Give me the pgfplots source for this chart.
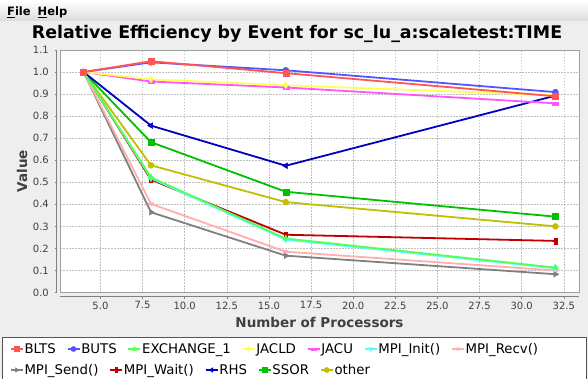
\documentclass[border=0pt]{standalone}
\usepackage{pgfplots}
\usepackage{pgfplotstable}
\pgfplotsset{compat=1.18}
\usepackage{fontspec}
\setmainfont{DejaVu Sans}
\definecolor{bgc}{HTML}{EEEEEE}
\definecolor{menubot}{HTML}{DCDCDC}
\definecolor{boxgray}{HTML}{A0A0A0}
\definecolor{axisgray}{HTML}{808080}
\definecolor{gridgray}{HTML}{C0C0C0}
\definecolor{labcol}{HTML}{404040}
\definecolor{legborder}{HTML}{555555}
\definecolor{cBLTS}{HTML}{FF5555}
\definecolor{cBUTS}{HTML}{5555FF}
\definecolor{cEXCH}{HTML}{55FF55}
\definecolor{cJACLD}{HTML}{FFFF55}
\definecolor{cJACU}{HTML}{FF55FF}
\definecolor{cInit}{HTML}{55FFFF}
\definecolor{cRecv}{HTML}{FFAFAF}
\definecolor{cSend}{HTML}{808080}
\definecolor{cWait}{HTML}{C00000}
\definecolor{cRHS}{HTML}{0000C0}
\definecolor{cSSOR}{HTML}{00C000}
\definecolor{cOther}{HTML}{C0C000}

\pgfplotstableread{
x   BLTS  BUTS  EXCH  JACLD JACU  Init  Recv  Send  Wait  RHS   SSOR  other
4   1.000 1.000 1.000 1.000 1.000 1.000 1.000 1.000 1.000 1.000 1.000 1.000
8   1.049 1.044 0.522 0.967 0.957 0.518 0.402 0.364 0.512 0.757 0.682 0.577
16  0.995 1.008 0.245 0.940 0.930 0.240 0.185 0.167 0.262 0.575 0.457 0.410
32  0.890 0.909 0.113 0.895 0.858 0.110 0.100 0.083 0.234 0.893 0.344 0.300
}\datatable

\pgfplotsset{
  ser/.style={line width=1.8pt, mark size=3pt},
  sBLTS/.style={ser, color=cBLTS, mark=square*, mark options={solid,line width=0.4pt}},
  sBUTS/.style={ser, color=cBUTS, mark=*, mark options={solid,line width=0.4pt}},
  sEXCH/.style={ser, color=cEXCH, mark=triangle*, mark size=3.4pt, mark options={solid,line width=0.4pt}},
  sJACLD/.style={ser, color=cJACLD, mark=diamond*, mark size=3.4pt, mark options={solid,line width=0.4pt}},
  sJACU/.style={ser, color=cJACU, mark=square*, mark options={solid,line width=0.4pt,yscale=0.5}},
  sInit/.style={ser, color=cInit, mark=triangle*, mark size=3.4pt, mark options={solid,line width=0.4pt,rotate=180}},
  sRecv/.style={ser, color=cRecv, mark=*, mark options={solid,line width=0.4pt,yscale=0.5}},
  sSend/.style={ser, color=cSend, mark=triangle*, mark size=3.4pt, mark options={solid,line width=0.4pt,rotate=-90}},
  sWait/.style={ser, color=cWait, mark=square*, mark options={solid,line width=0.4pt,xscale=0.5}},
  sRHS/.style={ser, color=cRHS, mark=triangle*, mark size=3.4pt, mark options={solid,line width=0.4pt,rotate=90}},
  sSSOR/.style={ser, color=cSSOR, mark=square*, mark options={solid,line width=0.4pt}},
  sOther/.style={ser, color=cOther, mark=*, mark options={solid,line width=0.4pt}},
  myleg/.style={
    legend columns=-1,
    legend cell align=left,
    legend image code/.code={\draw[##1, line width=1.5pt, mark repeat=2, mark phase=2, mark size=2.6pt]
        plot coordinates {(0pt,0pt)(6pt,0pt)(12pt,0pt)};},
    legend style={draw=none, fill=none, inner sep=0pt, outer sep=0pt,
      font=\fontsize{13.3}{15}\selectfont,
      nodes={inner sep=1pt, text=black},
      /tikz/every even column/.append style={column sep=10pt}},
  },
}

\begin{document}
\begin{tikzpicture}[x=1pt,y=1pt]
\useasboundingbox (0,0) rectangle (588,378);
\fill[bgc] (0,0) rectangle (588,378);
\shade[top color=white, bottom color=menubot] (0,357) rectangle (588,378);
\node[anchor=base west, font=\fontsize{11.5}{13}\selectfont\bfseries, text=black, inner sep=0pt]
  at (7,362.5) {\underline{F}ile\hspace{7pt}\underline{H}elp};
\node[anchor=base, font=\fontsize{17.4}{20}\selectfont\bfseries, inner sep=0pt]
  at (297,339) {Relative Efficiency by Event for sc\_lu\_a:scaletest:TIME};
\draw[legborder, fill=white, line width=0.8pt] (2,41) rectangle (586,-5);

\begin{axis}[
  at={(60pt,85.5pt)}, anchor=south west,
  width=519pt, height=242.5pt, scale only axis,
  clip=false,
  xmin=2.6, xmax=33.4, ymin=0, ymax=1.1,
  xtick={5,7.5,10,12.5,15,17.5,20,22.5,25,27.5,30,32.5},
  ytick={0,0.1,0.2,0.3,0.4,0.5,0.6,0.7,0.8,0.9,1.0,1.1},
  /pgf/number format/.cd, fixed, fixed zerofill, precision=1, assume math mode=true, /pgfplots/.cd,
  scaled ticks=false,
  tick label style={font=\fontsize{10}{12}\selectfont, text=labcol, inner sep=0pt},
  xticklabel style={anchor=north, yshift=-7pt},
  yticklabel style={anchor=east, xshift=-9pt},
  axis line style={boxgray, line width=0.8pt},
  axis background/.style={fill=white},
  major tick length=2pt, tick align=outside,
  xtick pos=left, ytick pos=left,
  xtick style={yshift=-4pt, draw=axisgray, line width=0.6pt},
  ytick style={xshift=-3.5pt, draw=axisgray, line width=0.6pt},
  grid=major,
  major grid style={gridgray, dash pattern=on 1.5pt off 1.5pt, line width=0.5pt},
  xlabel={Number of Processors}, ylabel={Value},
  label style={font=\fontsize{13.5}{16}\selectfont\bfseries, text=labcol},
  xlabel style={at={(axis description cs:0.5,-0.1216)}, anchor=center},
  ylabel style={at={(axis description cs:-0.0732,0.5)}, anchor=center},
  myleg,
  legend style={at={(axis description cs:-0.0963,-0.233)}, anchor=west},
]
\draw[axisgray, line width=0.8pt] ([xshift=-3.5pt]rel axis cs:0,0) -- ([xshift=-3.5pt]rel axis cs:0,1);
\draw[axisgray, line width=0.8pt] ([yshift=-4pt]rel axis cs:0,0) -- ([yshift=-4pt]rel axis cs:1,0);
\addplot[sOther, forget plot] table[x=x, y=other] {\datatable};
\addplot[sSSOR, forget plot] table[x=x, y=SSOR] {\datatable};
\addplot[sRHS, forget plot] table[x=x, y=RHS] {\datatable};
\addplot[sWait, forget plot] table[x=x, y=Wait] {\datatable};
\addplot[sSend, forget plot] table[x=x, y=Send] {\datatable};
\addplot[sRecv, forget plot] table[x=x, y=Recv] {\datatable};
\addplot[sInit, forget plot] table[x=x, y=Init] {\datatable};
\addplot[sJACU, forget plot] table[x=x, y=JACU] {\datatable};
\addplot[sJACLD, forget plot] table[x=x, y=JACLD] {\datatable};
\addplot[sEXCH, forget plot] table[x=x, y=EXCH] {\datatable};
\addplot[sBUTS, forget plot] table[x=x, y=BUTS] {\datatable};
\addplot[sBLTS, forget plot] table[x=x, y=BLTS] {\datatable};
\addlegendimage{sBLTS}\addlegendentry{BLTS}
\addlegendimage{sBUTS}\addlegendentry{BUTS}
\addlegendimage{sEXCH}\addlegendentry{EXCHANGE\_1}
\addlegendimage{sJACLD}\addlegendentry{JACLD}
\addlegendimage{sJACU}\addlegendentry{JACU}
\addlegendimage{sInit}\addlegendentry{MPI\_Init()}
\addlegendimage{sRecv}\addlegendentry{MPI\_Recv()}
\end{axis}

\begin{axis}[
  at={(60pt,85.5pt)}, anchor=south west,
  width=519pt, height=242.5pt, scale only axis,
  hide axis, xmin=0, xmax=1, ymin=0, ymax=1,
  myleg,
  legend style={at={(axis description cs:-0.0963,-0.3196)}, anchor=west},
]
\addlegendimage{sSend}\addlegendentry{MPI\_Send()}
\addlegendimage{sWait}\addlegendentry{MPI\_Wait()}
\addlegendimage{sRHS}\addlegendentry{RHS}
\addlegendimage{sSSOR}\addlegendentry{SSOR}
\addlegendimage{sOther}\addlegendentry{other}
\end{axis}
\end{tikzpicture}
\end{document}
